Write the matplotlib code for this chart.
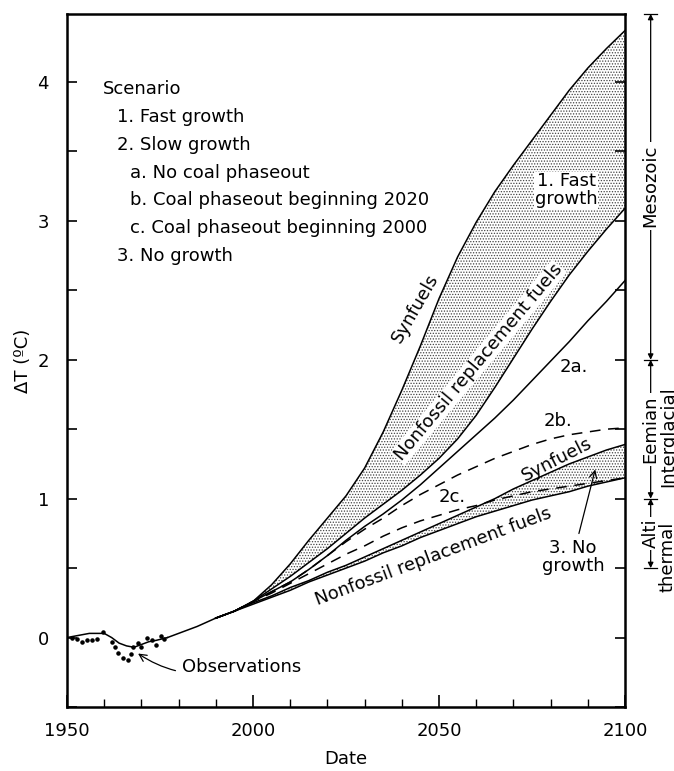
import numpy as np
import matplotlib.pyplot as plt
import matplotlib.transforms as mtransforms

plt.rcParams['font.family'] = ['DejaVu Sans']
plt.rcParams['hatch.linewidth'] = 0.6

# observed record (smoothed line and yearly dots)
obs_years = [1950, 1952, 1954, 1956, 1958, 1960, 1962, 1964, 1966, 1968, 1970, 1972, 1974, 1977]
obs_smooth = [0.0, 0.01, 0.02, 0.03, 0.03, 0.03, 0.0, -0.04, -0.06, -0.07, -0.05, -0.03, -0.02, 0.0]
dot_years = [1951.3, 1952.6, 1954, 1955.3, 1956.6, 1958, 1959.8, 1962, 1962.9, 1963.8, 1965,
             1966.3, 1967.1, 1967.8, 1969, 1970, 1971.4, 1972.8, 1974, 1975.4, 1976.2]
dot_values = [0.00, -0.01, -0.03, -0.02, -0.02, -0.01, 0.04, -0.03, -0.07, -0.11, -0.15,
              -0.16, -0.12, -0.07, -0.04, -0.07, 0.00, -0.02, -0.05, 0.01, -0.01]

# common model path before the scenarios split
common_years = [1977, 1980, 1985, 1990]
common_dt = [0.0, 0.03, 0.08, 0.14]

years = list(range(1990, 2101, 5))
fast_synfuels = [0.14, 0.19, 0.26, 0.38, 0.53, 0.70, 0.86, 1.02, 1.22, 1.48, 1.78, 2.10,
                 2.44, 2.74, 2.99, 3.21, 3.40, 3.58, 3.76, 3.94, 4.10, 4.24, 4.37]
fast_nonfossil = [0.14, 0.19, 0.26, 0.35, 0.44, 0.54, 0.64, 0.75, 0.86, 0.96, 1.06, 1.17,
                  1.29, 1.43, 1.60, 1.80, 2.01, 2.22, 2.42, 2.61, 2.78, 2.94, 3.09]
slow_2a = [0.14, 0.19, 0.26, 0.33, 0.40, 0.49, 0.59, 0.70, 0.80, 0.89, 0.99, 1.10,
           1.22, 1.34, 1.46, 1.58, 1.71, 1.85, 1.99, 2.13, 2.28, 2.42, 2.57]
slow_2b = [0.14, 0.19, 0.26, 0.33, 0.40, 0.49, 0.59, 0.69, 0.78, 0.86, 0.95, 1.03,
           1.10, 1.17, 1.23, 1.29, 1.34, 1.39, 1.43, 1.46, 1.48, 1.50, 1.51]
slow_2c = [0.14, 0.19, 0.26, 0.32, 0.39, 0.46, 0.53, 0.60, 0.66, 0.73, 0.79, 0.84,
           0.88, 0.92, 0.95, 0.99, 1.02, 1.05, 1.07, 1.09, 1.11, 1.13, 1.15]
none_synfuels = [0.14, 0.19, 0.25, 0.30, 0.36, 0.41, 0.47, 0.52, 0.58, 0.64, 0.70, 0.76,
                 0.82, 0.88, 0.94, 1.00, 1.07, 1.13, 1.19, 1.25, 1.30, 1.35, 1.39]
none_nonfossil = [0.14, 0.19, 0.24, 0.29, 0.34, 0.40, 0.45, 0.50, 0.55, 0.61, 0.66, 0.72,
                  0.77, 0.82, 0.87, 0.91, 0.95, 0.99, 1.02, 1.05, 1.09, 1.12, 1.15]

scenario_lines = ['Scenario', '1. Fast growth', '2. Slow growth', 'a. No coal phaseout',
                  'b. Coal phaseout beginning 2020', 'c. Coal phaseout beginning 2000', '3. No growth']
scenario_indent = [0, 1, 1, 2, 2, 2, 1]

fig = plt.figure(figsize=(6.74, 7.71), dpi=100)
ax = fig.add_axes([0.0994, 0.083, 0.8279, 0.899])

fs = 13
# stippled bands
ax.fill_between(years, fast_nonfossil, fast_synfuels, facecolor='white', edgecolor='#444444',
                hatch='......', linewidth=0)
ax.fill_between(years, none_nonfossil, none_synfuels, facecolor='white', edgecolor='#444444',
                hatch='......', linewidth=0)

lw = 1.1
ax.plot(obs_years, obs_smooth, color='black', lw=lw)
ax.plot(common_years, common_dt, color='black', lw=lw)
ax.scatter(dot_years, dot_values, s=5, color='black', zorder=3)
for ys in [fast_synfuels, fast_nonfossil, slow_2a, none_synfuels, none_nonfossil]:
    ax.plot(years, ys, color='black', lw=lw, zorder=4)
ax.plot(years, slow_2b, color='black', lw=lw, dashes=(7, 5))
ax.plot(years, slow_2c, color='black', lw=lw, dashes=(7, 5))

ax.set_xlim(1950, 2100)
ax.set_ylim(-0.5, 4.49)
ax.set_xticks([1950, 2000, 2050, 2100])
ax.set_xticks(np.arange(1960, 2100, 10), minor=True)
ax.set_yticks([0, 1, 2, 3, 4])
ax.set_yticks([-0.5, 0.5, 1.5, 2.5, 3.5], minor=True)
ax.tick_params(axis='x', which='major', direction='in', length=9, width=1.2, labelsize=fs, pad=11)
ax.tick_params(axis='x', which='minor', direction='in', length=6, width=1.0)
ax.tick_params(axis='y', which='both', direction='in', length=7, width=1.2, labelsize=fs, pad=13,
               right=True)
for s in ax.spines.values():
    s.set_linewidth(1.8)
ax.set_xlabel('Date', fontsize=fs, labelpad=7)
ax.set_ylabel('ΔT (ºC)', fontsize=fs, labelpad=4)

# scenario key
for i, (txt, ind) in enumerate(zip(scenario_lines, scenario_indent)):
    x0 = 0.0645 + [0, 0.0255, 0.0485][ind]
    ax.text(x0, 0.891 - i * 0.04, txt, transform=ax.transAxes, fontsize=fs, va='center', ha='left')

white = dict(facecolor='white', edgecolor='none', pad=0.5)
ax.text(2043.5, 2.37, 'Synfuels', rotation=60, fontsize=fs, ha='center', va='center')
ax.text(2060.6, 1.98, 'Nonfossil replacement fuels', rotation=50, fontsize=fs, ha='center',
        va='center', bbox=white)
ax.text(2084.2, 3.22, '1. Fast\ngrowth', fontsize=fs, ha='center', va='center', bbox=white,
        linespacing=1.0)
ax.text(2086.2, 1.95, '2a.', fontsize=fs, ha='center', va='center')
ax.text(2082, 1.56, '2b.', fontsize=fs, ha='center', va='center')
ax.text(2053.6, 1.01, '2c.', fontsize=fs, ha='center', va='center')
ax.text(2081.7, 1.28, 'Synfuels', rotation=27, fontsize=fs, ha='center', va='center')
ax.text(2048.5, 0.58, 'Nonfossil replacement fuels', rotation=20.5, fontsize=fs,
        ha='center', va='center')
ax.annotate('3. No\ngrowth', xy=(2092, 1.21), xytext=(2086, 0.58), fontsize=fs, ha='center',
            va='center', linespacing=1.0,
            arrowprops=dict(arrowstyle='->', lw=0.9, color='black', shrinkA=2, shrinkB=0))
ax.annotate('Observations', xy=(1969.1, -0.115), xytext=(1981, -0.21), fontsize=fs, ha='left',
            va='center',
            arrowprops=dict(arrowstyle='->', lw=0.9, color='black', shrinkA=3, shrinkB=0,
                            connectionstyle='arc3,rad=-0.25'))

# geological analogue ranges on the right
trans = mtransforms.blended_transform_factory(ax.transAxes, ax.transData)
xr = 1.046
xr2 = 1.077
for lo, hi in [(2.0, 4.49), (1.0, 2.0), (0.5, 1.0)]:
    ax.annotate('', xy=(xr, hi), xytext=(xr, lo), xycoords=trans, textcoords=trans,
                arrowprops=dict(arrowstyle='<|-|>', lw=0.9, color='black', mutation_scale=8,
                                shrinkA=0, shrinkB=0))
for yb in [4.49, 2.0, 1.0, 0.5]:
    ax.plot([xr - 0.012, xr + 0.012], [yb, yb], color='black', lw=0.9, transform=trans,
            clip_on=False)
ax.text(xr, 3.25, 'Mesozoic', rotation=90, fontsize=fs, ha='center', va='center', transform=trans,
        bbox=dict(facecolor='white', edgecolor='none', pad=2))
ax.text(xr, 1.5, 'Eemian', rotation=90, fontsize=fs, ha='center', va='center', transform=trans,
        bbox=dict(facecolor='white', edgecolor='none', pad=2))
ax.text(xr, 0.75, 'Alti', rotation=90, fontsize=fs, ha='center', va='center', transform=trans,
        bbox=dict(facecolor='white', edgecolor='none', pad=1))
ax.text(xr2, 1.45, 'Interglacial', rotation=90, fontsize=fs, ha='center', va='center',
        transform=trans)
ax.text(xr2, 0.58, 'thermal', rotation=90, fontsize=fs, ha='center', va='center', transform=trans)

fig.savefig('out.png', dpi=100)
